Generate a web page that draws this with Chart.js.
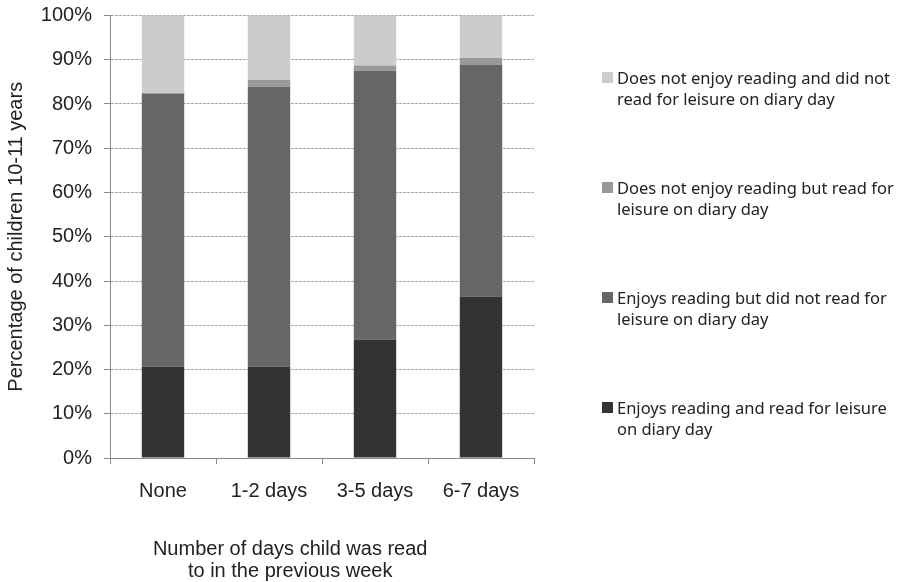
<!DOCTYPE html>
<html>
<head>
<meta charset="utf-8">
<script src="https://cdn.jsdelivr.net/npm/chart.js@4"></script>
<style>
  body { margin: 0; background: #fff; }
  #wrap { position: relative; width: 903px; height: 582px; }
  #legend { position: absolute; left: 602px; top: 0; width: 301px; font-family: "Noto Sans", sans-serif; font-size: 16.5px; color: #222; }
  .item { position: absolute; left: 0; width: 301px; line-height: 21px; padding-left: 15px; box-sizing: border-box; }
  .box { position: absolute; left: 0; top: 5px; width: 11px; height: 11px; }
</style>
</head>
<body>
<div id="wrap">
  <canvas id="chart" width="903" height="582"></canvas>
  <div id="legend"></div>
</div>
<script>
const categories = ["None", "1-2 days", "3-5 days", "6-7 days"];

const enjoysRead = [20.6, 20.7, 26.8, 36.5];
const enjoysNotRead = [61.7, 63.2, 60.7, 52.4];
const notEnjoyRead = [0.2, 1.6, 1.2, 1.5];
const notEnjoyNotRead = [17.5, 14.5, 11.3, 9.6];

const seriesNames = [
  "Enjoys reading and read for leisure on diary day",
  "Enjoys reading but did not read for leisure on diary day",
  "Does not enjoy reading but read for leisure on diary day",
  "Does not enjoy reading and did not read for leisure on diary day",
];
const colours = ["#333333", "#666666", "#999999", "#cccccc"];

const yTitle = "Percentage of children 10-11 years";
const xTitle = ["Number of days child was read", "to in the previous week"];

const fontFamily = "'Liberation Sans', Arial, sans-serif";
const tickFont = { family: fontFamily, size: 20 };

const values = [enjoysRead, enjoysNotRead, notEnjoyRead, notEnjoyNotRead];

// the x title sits a bit left of the plot centre in the original
const xTitlePlugin = {
  id: "xTitle",
  afterDraw(chart) {
    const { ctx, chartArea } = chart;
    const x = chartArea.left + chartArea.width * 0.425;
    const bottom = chart.scales.x.bottom;
    ctx.save();
    ctx.font = "20px " + fontFamily;
    ctx.fillStyle = "#222";
    ctx.textAlign = "center";
    ctx.textBaseline = "middle";
    xTitle.forEach((line, i) => {
      ctx.fillText(line, x, bottom - 31 + i * 22);
    });
    ctx.restore();
  },
};

const chart = new Chart(document.getElementById("chart"), {
  type: "bar",
  data: {
    labels: categories,
    datasets: values.map((v, i) => ({
      label: seriesNames[i],
      data: v,
      backgroundColor: colours[i],
      borderWidth: 0,
      barPercentage: 0.4,
      categoryPercentage: 1,
    })),
  },
  options: {
    responsive: false,
    animation: false,
    layout: { padding: { left: 0, right: 369, top: 0, bottom: 2 } },
    plugins: { legend: { display: false }, tooltip: { enabled: false } },
    scales: {
      x: {
        stacked: true,
        afterFit: (s) => { s.height = 122; },
        grid: { drawOnChartArea: false, color: "#888", tickLength: 6, offset: true },
        border: { color: "#888" },
        ticks: { color: "#222", font: tickFont, padding: 15 },
      },
      y: {
        stacked: true,
        min: 0,
        max: 100,
        afterFit: (s) => { s.width = 110; s.paddingTop = 15.5; },
        grid: { color: "#aaa", tickColor: "#888", tickLength: 6 },
        border: { color: "#888", dash: [3, 1] },
        ticks: { stepSize: 10, color: "#222", font: tickFont, padding: 12, callback: (v) => v + "%" },
        title: { display: true, text: yTitle, color: "#222", font: tickFont, padding: { top: 4, bottom: 0 } },
      },
    },
  },
  plugins: [xTitlePlugin],
});

// legend on the right, lightest series on top
const legendTops = [67, 177, 287, 397];
const legend = document.getElementById("legend");
chart.data.datasets.slice().reverse().forEach((ds, i) => {
  const item = document.createElement("div");
  item.className = "item";
  item.style.top = legendTops[i] + "px";
  const box = document.createElement("span");
  box.className = "box";
  box.style.background = ds.backgroundColor;
  item.appendChild(box);
  item.appendChild(document.createTextNode(ds.label));
  legend.appendChild(item);
});
</script>
</body>
</html>
